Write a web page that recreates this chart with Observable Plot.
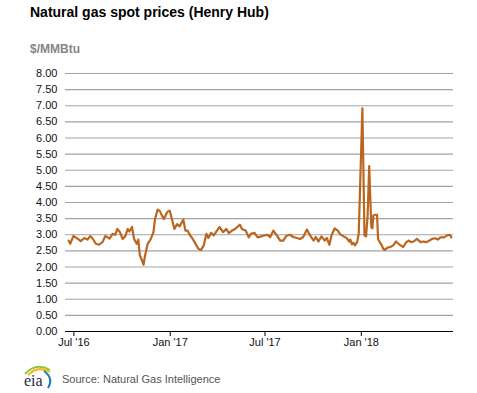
<!DOCTYPE html>
<html>
<head>
<meta charset="utf-8">
<script src="https://cdn.jsdelivr.net/npm/d3@7"></script>
<script src="https://cdn.jsdelivr.net/npm/@observablehq/plot@0.6"></script>
<style>
  html, body { margin: 0; padding: 0; background: #fff; }
  #wrap { position: relative; width: 477px; height: 393px; overflow: hidden; font-family: "Liberation Sans", Arial, sans-serif; }
  #title { position: absolute; left: 30px; top: 5px; font-size: 14px; line-height: 14px; font-weight: bold; color: #000; white-space: nowrap; }
  #unit { position: absolute; left: 30px; top: 43px; font-size: 12px; line-height: 12px; font-weight: bold; color: #858585; white-space: nowrap; }
  #chart { position: absolute; left: 0; top: 0; }
  #source { position: absolute; left: 62px; top: 374px; font-size: 11px; line-height: 11px; color: #555; white-space: nowrap; }
  #logo { position: absolute; left: 20px; top: 362px; }
</style>
</head>
<body>
<div id="wrap">
  <div id="chart"></div>
  <div id="title">Natural gas spot prices (Henry Hub)</div>
  <div id="unit">$/MMBtu</div>
  <svg id="logo" width="36" height="30" viewBox="0 0 36 30">
    <path d="M5 12 Q16 0 30 8" fill="none" stroke="#8dc63f" stroke-width="2"/>
    <path d="M8 13 Q18 3 30 10" fill="none" stroke="#f7b718" stroke-width="2"/>
    <path d="M24 9 Q34 16 28 26" fill="none" stroke="#1f78b4" stroke-width="2"/>
    <text x="4" y="24" font-family="Liberation Serif, DejaVu Serif, serif" font-size="16" fill="#1b2a48">eia</text>
  </svg>
  <div id="source">Source: Natural Gas Intelligence</div>
</div>
<script>
const dates = [
  "2016-06-21","2016-06-24","2016-06-30","2016-07-08","2016-07-14","2016-07-21","2016-07-27",
  "2016-08-01","2016-08-05","2016-08-12","2016-08-18","2016-08-25","2016-08-30",
  "2016-09-07","2016-09-13","2016-09-18","2016-09-22","2016-09-27",
  "2016-10-02","2016-10-07","2016-10-12","2016-10-15","2016-10-20","2016-10-24","2016-10-29",
  "2016-11-01","2016-11-04","2016-11-07","2016-11-11","2016-11-14","2016-11-19","2016-11-25","2016-11-30",
  "2016-12-03","2016-12-08","2016-12-12","2016-12-16","2016-12-20","2016-12-26","2016-12-31",
  "2017-01-05","2017-01-09","2017-01-14","2017-01-19","2017-01-26","2017-01-30",
  "2017-02-03","2017-02-08","2017-02-13","2017-02-20","2017-02-24",
  "2017-03-01","2017-03-06","2017-03-11","2017-03-15","2017-03-20","2017-03-25","2017-03-30",
  "2017-04-05","2017-04-12","2017-04-18","2017-04-23","2017-04-29",
  "2017-05-05","2017-05-14","2017-05-18","2017-05-25","2017-05-31",
  "2017-06-04","2017-06-11","2017-06-17","2017-06-28",
  "2017-07-05","2017-07-11","2017-07-17","2017-07-24","2017-07-30",
  "2017-08-05","2017-08-11","2017-08-18","2017-08-24","2017-08-31",
  "2017-09-06","2017-09-12","2017-09-19","2017-09-25",
  "2017-10-02","2017-10-06","2017-10-11","2017-10-17","2017-10-23","2017-10-27",
  "2017-11-01","2017-11-05","2017-11-11","2017-11-17","2017-11-21","2017-11-28",
  "2017-12-04","2017-12-09","2017-12-11","2017-12-14","2017-12-17","2017-12-20","2017-12-24","2017-12-27",
  "2018-01-03","2018-01-07","2018-01-10","2018-01-13","2018-01-16","2018-01-20","2018-01-22","2018-01-24","2018-01-27","2018-01-31",
  "2018-02-02","2018-02-06","2018-02-09","2018-02-12","2018-02-15","2018-02-20","2018-02-25",
  "2018-03-03","2018-03-08","2018-03-13","2018-03-17","2018-03-22","2018-03-28",
  "2018-04-01","2018-04-06","2018-04-11","2018-04-17","2018-04-24","2018-04-29",
  "2018-05-05","2018-05-11","2018-05-16","2018-05-22","2018-05-27",
  "2018-06-01","2018-06-08","2018-06-14","2018-06-19","2018-06-22"
];
const prices = [
  2.82,2.72,2.96,2.88,2.80,2.90,2.85,
  2.96,2.90,2.72,2.69,2.78,2.96,
  2.88,3.03,3.00,3.18,3.08,
  2.87,2.95,3.18,3.10,3.24,2.87,2.72,
  2.85,2.36,2.25,2.07,2.36,2.72,2.87,3.08,
  3.49,3.78,3.74,3.60,3.49,3.70,3.75,
  3.44,3.18,3.33,3.26,3.47,3.13,
  3.13,2.98,2.87,2.67,2.56,
  2.53,2.67,3.03,2.90,3.06,2.98,3.10,
  3.24,3.08,3.18,3.05,3.13,
  3.18,3.31,3.18,3.13,2.92,
  3.03,3.06,2.92,2.97,
  3.00,2.93,3.13,2.97,2.82,
  2.82,2.97,3.00,2.93,2.90,
  2.87,2.93,3.16,2.98,
  2.82,2.93,2.79,2.95,2.82,2.90,
  2.69,2.98,3.20,3.13,3.03,2.95,
  2.90,2.79,2.85,2.70,2.75,2.67,2.78,3.03,
  6.92,2.98,2.95,3.60,5.13,3.24,3.20,3.60,3.62,3.62,
  2.87,2.75,2.67,2.56,2.53,2.60,2.62,
  2.67,2.79,2.72,2.67,2.62,2.77,
  2.82,2.77,2.79,2.87,2.77,2.79,
  2.77,2.82,2.87,2.89,2.85,
  2.92,2.92,2.98,3.00,2.92
];
const yTicks = [0,0.5,1,1.5,2,2.5,3,3.5,4,4.5,5,5.5,6,6.5,7,7.5,8];
const xTickDates = ["2016-07-01","2017-01-01","2017-07-01","2018-01-01"];
const xTickLabels = ["Jul '16","Jan '17","Jul '17","Jan '18"];
const xDomain = ["2016-06-15","2018-06-26"];

const data = dates.map((d, i) => ({date: new Date(d + "T00:00:00Z"), price: prices[i]}));
const xTicks = xTickDates.map(d => new Date(d + "T00:00:00Z"));
const labelFor = d => xTickLabels[xTicks.findIndex(t => +t === +d)];

const chart = Plot.plot({
  width: 477,
  height: 393,
  marginTop: 73,
  marginBottom: 62,
  marginLeft: 65,
  marginRight: 24,
  style: {fontFamily: "'Liberation Sans', Arial, sans-serif", fontSize: "11px", color: "#111", background: "transparent"},
  x: {type: "utc", domain: xDomain.map(d => new Date(d + "T00:00:00Z"))},
  y: {domain: [0, 8]},
  marks: [
    Plot.ruleY(yTicks.filter(v => v > 0), {stroke: "#a3a3a3", strokeWidth: 1.2}),
    Plot.axisY(yTicks, {tickSize: 0, tickPadding: 8, tickFormat: d => d.toFixed(2), label: null}),
    Plot.lineY(data, {x: "date", y: "price", stroke: "#bb661f", strokeWidth: 2.2, curve: "linear"}),
    Plot.ruleY([0], {stroke: "#000", strokeWidth: 1.2}),
    Plot.axisX(xTicks, {tickSize: 5, tickPadding: 2, tickFormat: labelFor, label: null, stroke: "#000"})
  ]
});
document.getElementById("chart").appendChild(chart);
</script>
</body>
</html>
